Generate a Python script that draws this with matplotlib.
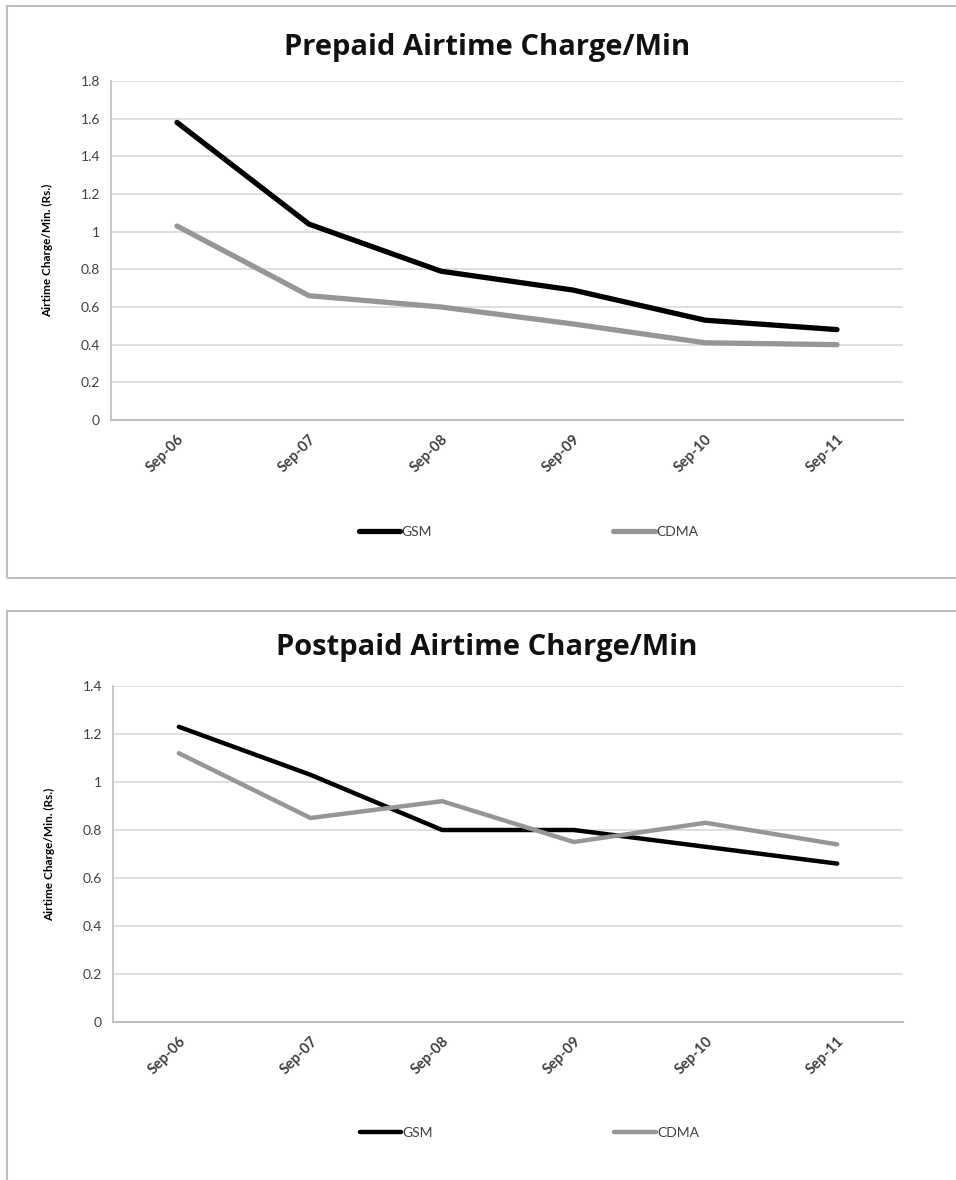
import matplotlib.pyplot as plt
from matplotlib.patches import Rectangle

# Data
periods = ['Sep-06', 'Sep-07', 'Sep-08', 'Sep-09', 'Sep-10', 'Sep-11']
prepaid_gsm = [1.58, 1.04, 0.79, 0.69, 0.53, 0.48]
prepaid_cdma = [1.03, 0.66, 0.60, 0.51, 0.41, 0.40]
postpaid_gsm = [1.23, 1.03, 0.80, 0.80, 0.73, 0.66]
postpaid_cdma = [1.12, 0.85, 0.92, 0.75, 0.83, 0.74]

plt.rcParams['font.family'] = ['Lato', 'DejaVu Sans']

fig = plt.figure(figsize=(9.56, 11.8), dpi=100)

# gray frames round each chart
fig.add_artist(Rectangle((7 / 956, 1 - 578 / 1180), 1.0, 572 / 1180, transform=fig.transFigure,
                         fill=False, edgecolor='#bfbfbf', linewidth=1.5))
fig.add_artist(Rectangle((7 / 956, -0.1), 1.0, 1 - 611 / 1180 + 0.1, transform=fig.transFigure,
                         fill=False, edgecolor='#bfbfbf', linewidth=1.5))


def draw_chart(ax, gsm, cdma, title, title_y, ymax, lw):
    x = range(len(periods))
    ax.plot(x, gsm, color='black', linewidth=lw, solid_joinstyle='round',
            solid_capstyle='round', label='GSM')
    ax.plot(x, cdma, color='#969696', linewidth=lw, solid_joinstyle='round',
            solid_capstyle='round', label='CDMA')
    ax.set_xlim(-0.5, len(periods) - 0.5)
    ax.set_ylim(0, ymax)
    ax.set_yticks([round(v * 0.2, 1) for v in range(int(round(ymax / 0.2)) + 1)])
    ax.set_yticklabels([('%g' % t) for t in ax.get_yticks()], fontsize=10, color='#404040')
    ax.set_xticks(list(x))
    ax.set_xticklabels(periods, rotation=45, ha='right', va='top', rotation_mode='anchor',
                       fontsize=10.5, fontweight='bold', color='#404040')
    ax.tick_params(length=0, pad=8)
    ax.tick_params(axis='x', pad=9)
    ax.grid(axis='y', color='#d9d9d9', linewidth=1.2)
    ax.set_axisbelow(True)
    for s in ['top', 'right']:
        ax.spines[s].set_visible(False)
    ax.spines['left'].set_color('#bfbfbf')
    ax.spines['bottom'].set_color('#bfbfbf')
    ax.spines['left'].set_linewidth(1.2)
    ax.spines['bottom'].set_linewidth(1.5)
    ax.set_ylabel('Airtime Charge/Min. (Rs.)', fontsize=8.5, fontweight='bold', labelpad=20)
    fig.text(487 / 956, 1 - title_y / 1180, title, ha='center', va='center',
             fontsize=21, fontweight='bold', color='#111111', family=['Open Sans', 'DejaVu Sans'])
    ax.legend(loc='center', bbox_to_anchor=(0.527, -0.33), ncol=2, frameon=False,
              fontsize=10, handlelength=3.0, handletextpad=0.1, columnspacing=13.0,
              labelcolor='#404040')


ax1 = fig.add_axes([111 / 956, 1 - 420 / 1180, 792 / 956, 339 / 1180])
draw_chart(ax1, prepaid_gsm, prepaid_cdma, 'Prepaid Airtime Charge/Min', 47, 1.8, 3.8)

ax2 = fig.add_axes([113 / 956, 1 - 1022 / 1180, 790 / 956, 336 / 1180])
draw_chart(ax2, postpaid_gsm, postpaid_cdma, 'Postpaid Airtime Charge/Min', 647, 1.4, 3.2)

fig.savefig('out.png', dpi=100)
